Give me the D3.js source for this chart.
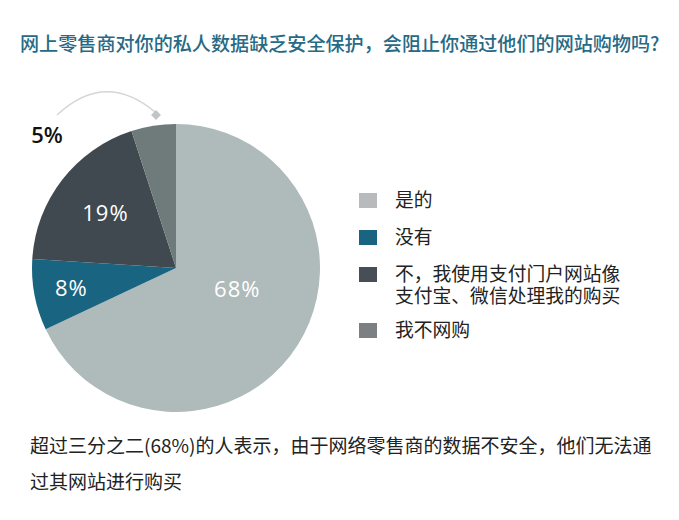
<!DOCTYPE html>
<html><head><meta charset="utf-8">
<script src="https://cdn.jsdelivr.net/npm/d3@7"></script>
<style>body{margin:0;background:#fff;} svg{display:block;}</style>
</head><body>
<svg id="c" width="679" height="520"></svg>
<script>
const categories = ["是的", "没有", "不，我使用支付门户网站像\n支付宝、微信处理我的购买", "我不网购"];
const values = [68, 8, 19, 5];
const sliceColors = ["#afbaba", "#196480", "#3f494f", "#6f7b7b"];
const legendColors = ["#b8babc", "#196480", "#474e55", "#7d8083"];
const title = "网上零售商对你的私人数据缺乏安全保护，会阻止你通过他们的网站购物吗?";
const footnote = ["超过三分之二(68%)的人表示，由于网络零售商的数据不安全，他们无法通", "过其网站进行购买"];

const svg = d3.select("#c");
const cjk = "'Noto Sans CJK SC','Noto Sans',sans-serif";
const num = "'Open Sans','Noto Sans',sans-serif";

svg.append("text").attr("x", 20).attr("y", 51).attr("font-family", cjk).attr("font-size", 19.1)
  .attr("font-weight", 500).attr("fill", "#276a85").text(title);

const cx = 176, cy = 268, r = 144;
const g = svg.append("g").attr("transform", `translate(${cx},${cy})`);
const pie = d3.pie().sort(null).value(d => d)(values);
const arc = d3.arc().innerRadius(0).outerRadius(r);
g.selectAll("path").data(pie).join("path").attr("d", arc)
  .attr("fill", (d, i) => sliceColors[i]);

// label placement: fraction along slice angle, fraction of radius
const labelF = [0.445, 0.5, 0.5, 0];
const labelR = [0.45, 0.74, 0.62, 0];
pie.forEach((d, i) => {
  if (i === 3) return;
  const a = d.startAngle + labelF[i] * (d.endAngle - d.startAngle);
  const lr = r * labelR[i];
  g.append("text").attr("x", Math.sin(a) * lr).attr("y", -Math.cos(a) * lr)
    .attr("text-anchor", "middle").attr("dy", "0.36em")
    .attr("font-family", num).attr("font-size", 22).attr("fill", "#fff")
    .attr("letter-spacing", 1).text(values[i] + "%");
});
// small slice callout
svg.append("text").attr("x", 47).attr("y", 143).attr("text-anchor", "middle")
  .attr("font-family", num).attr("font-size", 22).attr("font-weight", 600)
  .attr("fill", "#111").text(values[3] + "%");
svg.append("path").attr("d", "M57,115 Q105,70 155,112").attr("fill", "none")
  .attr("stroke", "#d4d6d6").attr("stroke-width", 1.5);
svg.append("rect").attr("x", -3.5).attr("y", -3.5).attr("width", 7).attr("height", 7)
  .attr("fill", "#c2c5c5").attr("transform", "translate(156,115) rotate(45)");

// legend
const legY = [193, 230, 267, 323];
categories.forEach((c, i) => {
  svg.append("rect").attr("x", 359).attr("y", legY[i]).attr("width", 18).attr("height", 15)
    .attr("fill", legendColors[i]);
  const t = svg.append("text").attr("x", 395).attr("y", legY[i] + 14)
    .attr("font-family", cjk).attr("font-size", 18.8).attr("fill", "#222");
  c.split("\n").forEach((l, j) => {
    t.append("tspan").attr("x", 395).attr("dy", j === 0 ? 0 : 22).text(l);
  });
});

footnote.forEach((l, j) => {
  svg.append("text").attr("x", 30).attr("y", 453 + j * 36).attr("font-family", cjk)
    .attr("font-size", 19).attr("fill", "#222").text(l);
});
</script>
</body></html>
